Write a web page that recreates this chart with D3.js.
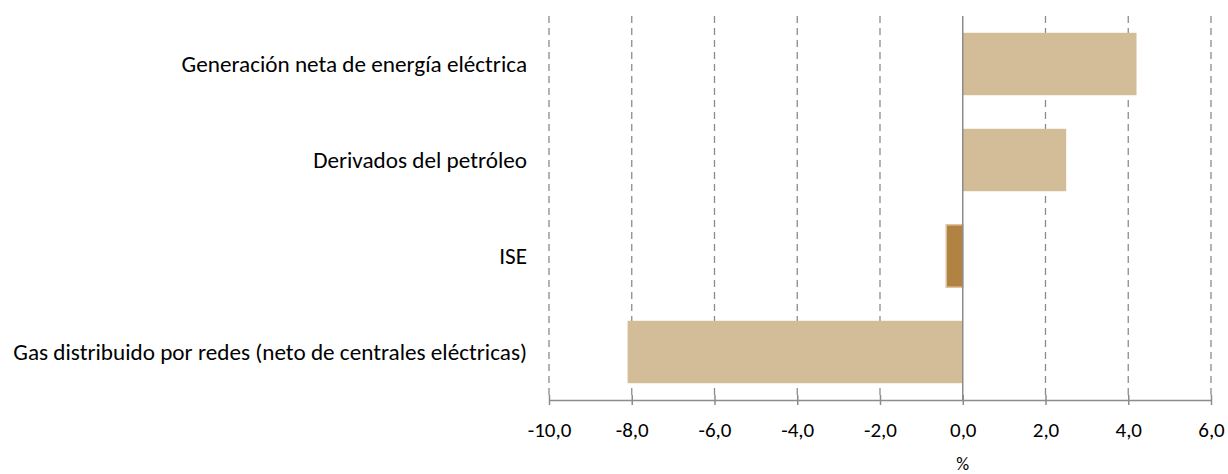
<!DOCTYPE html>
<meta charset="utf-8">
<style>
body { margin: 0; background: #fff; }
text { font-family: Carlito, "Open Sans", "Liberation Sans", sans-serif; fill: #000; }
</style>
<svg width="1228" height="474"></svg>
<script src="https://cdn.jsdelivr.net/npm/d3@7"></script>
<script>

var categories = [
  "Generación neta de energía eléctrica",
  "Derivados del petróleo",
  "ISE",
  "Gas distribuido por redes (neto de centrales eléctricas)"
]
var values = [4.2, 2.5, -0.4, -8.1]
var tickValues = [-10, -8, -6, -4, -2, 0, 2, 4, 6]
var highlight = "ISE"

var svg = d3.select("svg"),
    plotLeft = 549, plotRight = 1211, plotTop = 16, plotBottom = 400

var x = d3.scaleLinear().domain([-10, 6]).range([plotLeft, plotRight])
var y = d3.scaleBand().domain(categories).range([plotTop, plotBottom]).paddingInner(0.35).paddingOuter(0.175)

var fmt = function(d) { return d3.format(".1f")(d).replace(".", ",").replace("\u2212", "-") }

// dashed vertical grid
svg.append("g")
  .selectAll("line")
  .data(tickValues.filter(function(d) { return d !== 0 }))
  .enter().append("line")
    .attr("x1", function(d) { return x(d) })
    .attr("x2", function(d) { return x(d) })
    .attr("y1", plotTop)
    .attr("y2", plotBottom)
    .attr("stroke", "#8c8c8c")
    .attr("stroke-width", 1.3)
    .attr("stroke-dasharray", "7,5")

// bars
svg.append("g")
  .selectAll("rect")
  .data(categories)
  .enter().append("rect")
    .attr("x", function(d, i) { return x(Math.min(0, values[i])) })
    .attr("width", function(d, i) { return Math.abs(x(values[i]) - x(0)) })
    .attr("y", function(d) { return y(d) })
    .attr("height", y.bandwidth())
    .attr("fill", function(d) { return d === highlight ? "#b08343" : "#d3bc98" })
    .attr("stroke", function(d) { return d === highlight ? "#dcc59c" : "none" })
    .attr("stroke-width", 1.5)

// zero line
svg.append("line")
  .attr("x1", x(0)).attr("x2", x(0))
  .attr("y1", plotTop).attr("y2", plotBottom)
  .attr("stroke", "#8c8c8c")
  .attr("stroke-width", 1.5)

// x axis
var xAxis = svg.append("g")
  .attr("transform", "translate(0," + plotBottom + ")")
  .call(d3.axisBottom(x).tickValues(tickValues).tickFormat(fmt).tickSizeInner(5).tickSizeOuter(0))
xAxis.select(".domain").attr("stroke", "#8c8c8c").attr("stroke-width", 1.5)
xAxis.selectAll(".tick line").attr("stroke", "#8c8c8c").attr("stroke-width", 1.5).attr("y1", -5)
xAxis.selectAll(".tick text")
  .attr("font-size", 21).attr("font-family", null)
  .attr("y", 37).attr("dy", null)
  .style("fill", "#000")

// category labels
svg.append("g")
  .selectAll("text")
  .data(categories)
  .enter().append("text")
    .attr("x", 527)
    .attr("y", function(d) { return y(d) + y.bandwidth() / 2 })
    .attr("dy", "0.33em")
    .attr("text-anchor", "end")
    .attr("font-size", 23.2)
    .text(function(d) { return d })

svg.append("text")
  .attr("x", x(0))
  .attr("y", 470)
  .attr("text-anchor", "middle")
  .attr("font-size", 18)
  .text("%")
</script>
